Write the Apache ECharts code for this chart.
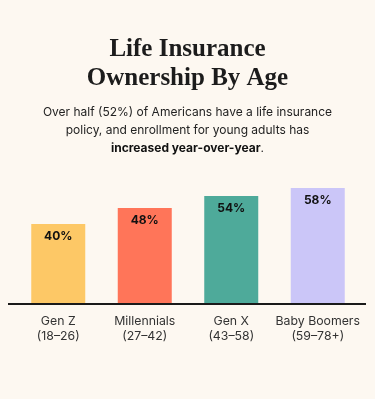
<!DOCTYPE html>
<html>
<head>
<meta charset="utf-8">
<script src="https://cdn.jsdelivr.net/npm/echarts@6/dist/echarts.min.js"></script>
<style>
  html, body { margin: 0; padding: 0; background: #fdf8f1; }
  #chart { width: 375px; height: 399px; }
</style>
</head>
<body>
<div id="chart"></div>
<script>
// data
const generations = ["Gen Z", "Millennials", "Gen X", "Baby Boomers"];
const ageRanges = ["(18–26)", "(27–42)", "(43–58)", "(59–78+)"];
const ownership = [40, 48, 54, 58];
const barColors = ["#fdc866", "#ff7559", "#4eaa9a", "#cbc6f8"];

const chart = echarts.init(document.getElementById("chart"));

chart.setOption({
  backgroundColor: "#fdf8f1",
  title: [
    {
      text: "Life Insurance\nOwnership By Age",
      left: "center",
      top: 30,
      textStyle: {
        fontFamily: "Liberation Serif",
        fontSize: 25,
        fontWeight: "bold",
        lineHeight: 29,
        color: "#1c1c1c"
      }
    },
    {
      text: "Over half (52%) of Americans have a life insurance\npolicy, and enrollment for young adults has\n{b|increased year-over-year}.",
      left: "center",
      top: 98,
      textStyle: {
        fontFamily: "Inter",
        fontSize: 12,
        fontWeight: "normal",
        lineHeight: 18.3,
        color: "#222",
        align: "center",
        rich: {
          b: { fontFamily: "Inter", fontSize: 12, fontWeight: "bold", color: "#111", lineHeight: 18.3 }
        }
      }
    }
  ],
  grid: { left: 15, right: 14, top: 70, bottom: 95 },
  xAxis: {
    type: "category",
    data: generations.map((g, i) => g + "\n" + ageRanges[i]),
    axisLine: { show: false },
    axisTick: { show: false },
    axisLabel: {
      interval: 0,
      margin: 10,
      fontFamily: "Inter",
      fontSize: 12.3,
      lineHeight: 15,
      color: "#333"
    }
  },
  yAxis: {
    type: "value",
    min: 0,
    max: 117,
    show: false
  },
  series: [{
    type: "bar",
    barWidth: 54,
    data: ownership.map((v, i) => ({ value: v, itemStyle: { color: barColors[i] } })),
    label: {
      show: true,
      position: "insideTop",
      distance: 6,
      formatter: "{c}%",
      fontFamily: "Inter",
      fontSize: 12,
      fontWeight: "bold",
      color: "#111"
    }
  }],
  graphic: [{
    type: "line",
    shape: { x1: 8, y1: 304, x2: 366, y2: 304 },
    style: { stroke: "#1a1a1a", lineWidth: 2 },
    z: 10
  }]
});
</script>
</body>
</html>
